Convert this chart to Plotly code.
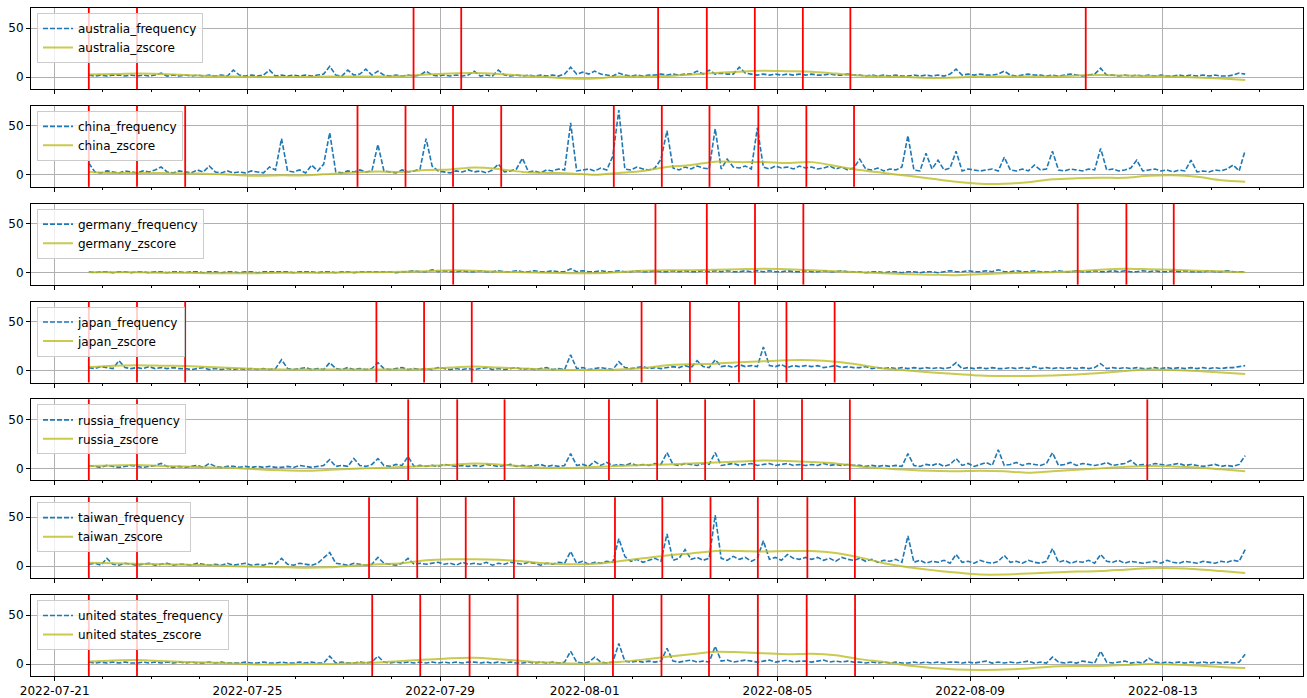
import pandas as pd
import plotly.graph_objects as go
from plotly.subplots import make_subplots

countries = ["australia", "china", "germany", "japan", "russia", "taiwan", "united states"]

tick_labels = ["2022-07-21", "2022-07-25", "2022-07-29", "2022-08-01",
               "2022-08-05", "2022-08-09", "2022-08-13"]

# frequency: one value every 3 hours from 2022-07-21 17:00 (8 values per line = 1 day)
australia_frequency = [
    2, 1, 2, 1, 2, 2, 1, 2,
    1, 2, 1, 2, 4, 1, 2, 1,
    2, 1, 2, 1, 2, 1, 2, 1,
    7, 2, 1, 2, 1, 2, 7, 1,
    2, 1, 2, 1, 2, 1, 2, 3,
    11, 2, 1, 7, 2, 3, 8, 2,
    6, 2, 1, 2, 1, 2, 1, 2,
    6, 2, 1, 2, 1, 2, 1, 2,
    6, 1, 2, 1, 7, 2, 1, 2,
    1, 2, 1, 2, 1, 2, 1, 3,
    10, 3, 5, 3, 6, 3, 2, 1,
    4, 2, 1, 2, 1, 2, 2, 3,
    2, 3, 2, 3, 3, 6, 3, 7,
    3, 4, 3, 3, 10, 4, 3, 2,
    3, 2, 3, 2, 3, 2, 3, 2,
    3, 2, 2, 3, 2, 2, 3, 2,
    2, 1, 2, 1, 2, 1, 2, 1,
    1, 2, 1, 2, 1, 2, 1, 3,
    8, 2, 3, 2, 3, 2, 2, 3,
    6, 2, 1, 2, 3, 2, 2, 1,
    2, 1, 2, 3, 2, 1, 2, 3,
    9, 2, 2, 1, 2, 1, 2, 1,
    2, 1, 2, 1, 1, 2, 1, 2,
    1, 2, 1, 2, 1, 1, 2, 4,
    3]
china_frequency = [
    12, 3, 2, 4, 3, 2, 4, 3,
    2, 4, 3, 5, 8, 3, 2, 4,
    3, 2, 5, 3, 9, 3, 2, 4,
    2, 3, 2, 4, 3, 2, 8, 5,
    37, 4, 3, 5, 2, 10, 4, 11,
    43, 3, 2, 4, 3, 5, 3, 4,
    31, 4, 3, 2, 5, 3, 4, 6,
    37, 9, 4, 3, 2, 4, 3, 5,
    3, 4, 2, 5, 11, 3, 4, 6,
    17, 3, 4, 2, 5, 4, 6, 5,
    53, 4, 5, 6, 4, 7, 5, 19,
    66, 6, 5, 8, 6, 5, 7, 16,
    45, 7, 5, 8, 6, 9, 7, 6,
    47, 6, 16, 8, 7, 9, 6, 48,
    8, 6, 9, 7, 8, 6, 9, 7,
    8, 6, 7, 9, 6, 8, 5, 7,
    16, 6, 5, 7, 4, 6, 5, 8,
    40, 5, 4, 22, 6, 15, 5, 7,
    24, 4, 6, 5, 4, 5, 6, 4,
    18, 5, 4, 6, 4, 10, 5, 6,
    24, 5, 4, 6, 5, 4, 6, 5,
    27, 5, 6, 4, 5, 7, 15, 4,
    5, 6, 4, 5, 3, 5, 4, 15,
    3, 4, 3, 5, 4, 6, 10, 4,
    25]
germany_frequency = [
    1, 0, 1, 1, 0, 1, 1, 0,
    1, 1, 0, 1, 1, 0, 1, 1,
    0, 1, 1, 0, 1, 1, 0, 1,
    1, 0, 1, 1, 0, 1, 1, 1,
    1, 1, 0, 1, 1, 1, 0, 1,
    1, 0, 1, 1, 0, 1, 1, 1,
    1, 1, 1, 0, 1, 1, 2, 1,
    1, 3, 1, 2, 1, 1, 2, 1,
    1, 2, 1, 1, 2, 1, 1, 2,
    1, 1, 2, 1, 1, 2, 1, 1,
    4, 1, 2, 1, 1, 2, 1, 1,
    2, 1, 1, 2, 1, 1, 2, 1,
    1, 2, 1, 2, 1, 1, 2, 1,
    2, 1, 2, 1, 1, 2, 1, 2,
    1, 2, 1, 1, 2, 1, 1, 2,
    1, 1, 2, 1, 1, 2, 1, 1,
    1, 0, 1, 1, 0, 1, 1, 0,
    1, 1, 0, 1, 1, 0, 1, 2,
    1, 1, 2, 1, 1, 2, 1, 3,
    1, 1, 2, 1, 1, 2, 1, 1,
    1, 2, 1, 1, 2, 1, 1, 2,
    1, 1, 2, 1, 2, 1, 1, 2,
    1, 2, 1, 1, 2, 1, 2, 1,
    1, 1, 2, 1, 1, 2, 1, 1,
    1]
japan_frequency = [
    3, 2, 4, 3, 2, 10, 3, 2,
    3, 2, 4, 2, 3, 2, 3, 2,
    2, 1, 2, 3, 1, 2, 1, 2,
    1, 2, 1, 2, 1, 2, 1, 2,
    11, 2, 1, 2, 3, 1, 2, 1,
    8, 2, 1, 3, 1, 2, 1, 2,
    8, 2, 1, 2, 3, 1, 2, 1,
    2, 1, 3, 2, 1, 2, 1, 2,
    1, 2, 3, 1, 2, 1, 2, 3,
    1, 2, 1, 2, 3, 1, 2, 1,
    16, 2, 3, 1, 2, 3, 2, 1,
    9, 3, 2, 3, 4, 2, 3, 2,
    3, 4, 3, 5, 3, 10, 4, 3,
    11, 4, 5, 3, 6, 4, 5, 4,
    24, 5, 4, 6, 3, 5, 4, 5,
    4, 5, 3, 4, 5, 3, 4, 3,
    3, 4, 2, 3, 2, 3, 2, 3,
    2, 3, 2, 3, 2, 3, 2, 3,
    8, 2, 3, 2, 3, 2, 3, 2,
    2, 3, 2, 3, 2, 4, 2, 3,
    2, 3, 2, 3, 2, 3, 2, 3,
    7, 2, 3, 2, 3, 2, 3, 2,
    2, 3, 2, 3, 2, 3, 2, 3,
    2, 3, 2, 3, 2, 3, 3, 4,
    5]
russia_frequency = [
    3, 2, 1, 3, 2, 1, 2, 3,
    2, 1, 2, 3, 5, 2, 1, 2,
    1, 2, 3, 1, 5, 2, 1, 2,
    2, 1, 2, 1, 2, 1, 2, 1,
    1, 2, 1, 3, 2, 1, 2, 3,
    9, 2, 3, 2, 10, 3, 2, 4,
    10, 3, 2, 4, 3, 12, 2, 3,
    2, 3, 2, 4, 3, 2, 3, 2,
    3, 2, 4, 3, 2, 3, 4, 2,
    3, 2, 3, 4, 2, 3, 2, 3,
    15, 3, 4, 2, 7, 3, 6, 3,
    4, 3, 5, 3, 4, 3, 5, 4,
    16, 4, 3, 5, 4, 3, 5, 4,
    16, 3, 4, 5, 3, 4, 5, 3,
    4, 5, 3, 4, 5, 3, 4, 3,
    4, 3, 5, 3, 4, 3, 4, 3,
    3, 2, 3, 2, 3, 2, 3, 2,
    15, 3, 2, 4, 3, 5, 2, 4,
    10, 3, 5, 2, 4, 6, 3, 19,
    3, 4, 6, 3, 5, 4, 3, 5,
    16, 3, 4, 6, 3, 5, 4, 3,
    4, 6, 3, 4, 5, 8, 3, 4,
    3, 5, 4, 3, 4, 5, 3, 4,
    3, 2, 3, 4, 2, 3, 2, 4,
    13]
taiwan_frequency = [
    2, 3, 1, 8, 2, 1, 3, 2,
    1, 2, 3, 1, 2, 3, 1, 2,
    2, 1, 3, 2, 1, 2, 1, 3,
    1, 2, 3, 1, 2, 1, 3, 2,
    8, 2, 1, 3, 2, 1, 3, 9,
    14, 3, 2, 1, 3, 2, 1, 2,
    9, 3, 2, 1, 3, 8, 2, 3,
    2, 3, 4, 2, 3, 1, 4, 2,
    3, 2, 4, 1, 3, 2, 4, 3,
    2, 4, 3, 1, 3, 2, 4, 3,
    15, 3, 5, 2, 4, 3, 5, 4,
    28, 10, 5, 7, 4, 6, 8, 5,
    33, 6, 8, 17, 7, 9, 6, 8,
    52, 8, 6, 10, 7, 9, 5, 8,
    26, 7, 9, 6, 12, 8, 7, 9,
    7, 9, 6, 8, 5, 9, 7, 6,
    8, 5, 7, 4, 6, 5, 7, 4,
    31, 4, 6, 3, 5, 4, 6, 3,
    12, 4, 5, 3, 6, 4, 3, 5,
    11, 4, 5, 3, 6, 4, 3, 5,
    18, 4, 6, 3, 5, 4, 6, 3,
    12, 5, 4, 6, 3, 5, 4, 3,
    4, 5, 3, 6, 4, 3, 5, 4,
    3, 5, 4, 3, 5, 4, 6, 5,
    17]
united_states_frequency = [
    2, 1, 2, 1, 2, 1, 2, 1,
    1, 2, 1, 2, 1, 2, 1, 2,
    1, 2, 1, 1, 2, 1, 2, 1,
    1, 1, 2, 1, 1, 2, 1, 1,
    2, 1, 1, 2, 1, 2, 1, 1,
    8, 1, 2, 1, 1, 2, 1, 2,
    8, 2, 1, 2, 1, 2, 1, 2,
    1, 2, 1, 2, 1, 2, 1, 2,
    2, 1, 2, 1, 2, 1, 2, 1,
    1, 2, 1, 2, 1, 2, 1, 2,
    13, 2, 1, 2, 7, 2, 1, 2,
    21, 3, 2, 3, 2, 3, 2, 3,
    16, 3, 2, 3, 4, 2, 3, 2,
    18, 3, 4, 2, 3, 4, 3, 2,
    3, 4, 2, 3, 4, 2, 3, 3,
    2, 3, 4, 2, 3, 2, 3, 2,
    2, 1, 2, 1, 2, 1, 2, 1,
    1, 2, 1, 2, 1, 2, 1, 2,
    2, 1, 2, 1, 2, 3, 1, 2,
    1, 2, 1, 2, 3, 1, 2, 1,
    7, 2, 1, 2, 1, 3, 2, 1,
    13, 2, 1, 2, 3, 1, 2, 1,
    6, 2, 1, 2, 1, 2, 1, 2,
    1, 2, 1, 2, 1, 2, 1, 2,
    10]

# zscore: one value every 12 hours from 2022-07-21 17:00
australia_zscore = [2.5, 3, 3.5, 3, 2, 1, 0.5, 0, 0, 0, 0.5, 0.5, 0.5, 1, 2.5, 3.5, 4, 3, 1.5, 0,
                    -1.5, -1.5, 0.5, 0.5, 1, 2.5, 4, 5.5, 6.5, 6, 5.5, 3.5, 1.5, 0.5, 0, -1, -0.5,
                    0.5, 0.5, 0.5, 0.5, 1.5, 2, 1.5, 1, 0.5, -0.5, -1.5, -3]
china_zscore = [3, 2, 2, 2, 1.5, 1, 0, -1, -0.5, -0.5, 1, 2.5, 3.5, 3, 5, 5.5, 7.5, 6, 3, 2,
                1.5, 0, 2, 4, 8, 10, 13.5, 13, 13, 12, 13, 9, 5, 2, -1, -4, -7, -9, -9, -7.5,
                -4.5, -3.5, -3, -3, -1, -0.5, -2, -5.5, -7]
germany_zscore = [0.5, 0.5, 0.5, 0, 0, -0.5, -0.5, -0.5, 0, 0, 0, 0.5, 0.5, 1, 1.5, 2.5, 2, 1,
                  0.5, 0, -0.5, -0.5, 0.5, 2, 2.5, 2.5, 3, 3.5, 4, 3.5, 2.5, 1.5, 0.5, -0.5, -1.5,
                  -2, -2.5, -1.5, -0.5, 0, 0.5, 1.5, 3, 4, 3.5, 3, 2, 1.5, 0.5]
japan_zscore = [3.5, 5, 5.5, 5, 4.5, 3.5, 2.5, 1.5, 1, 1, 1, 1, 1, 1, 1.5, 3, 4, 3, 2, 1, 0.5,
                0.5, 1, 2.5, 5.5, 6.5, 7, 8.5, 9.5, 10.5, 10.5, 9, 6, 2, 0, -2, -3.5, -5, -5.5,
                -5.5, -5, -4, -2.5, -0.5, 1, 0.5, -0.5, -2, -3.5]
russia_zscore = [2.5, 3, 3.5, 2.5, 2, 1, 0.5, -1, -2, -2.5, -1.5, -0.5, 0.5, 1.5, 2.5, 3.5, 5, 4,
                 2, 0.5, 0.5, 1.5, 2.5, 3.5, 4, 5, 6, 7, 8, 7.5, 6.5, 5, 2, 0, -1.5, -2.5, -3,
                 -2.5, -3, -4.5, -3, -1.5, 0, 1.5, 2.5, 2, 1, -1, -3]
taiwan_zscore = [3.5, 3, 2.5, 2, 1.5, 1, 0, -0.5, -1, -1.5, -1, 0.5, 2, 3, 6, 7, 7, 6.5, 5, 3,
                 2, 2.5, 5, 8, 11, 13, 15.5, 15.5, 15, 15.5, 15.5, 13.5, 9, 3, -1, -4, -6.5,
                 -8.5, -8.5, -7.5, -6.5, -5.5, -5, -3.5, -2, -2, -3, -5, -7]
united_states_zscore = [2.5, 3.5, 4, 3, 2, 1.5, 0.5, -0.5, -0.5, 0, 0, 1, 1.5, 3, 4.5, 6, 6.5, 5,
                        3, 1.5, 0.5, 0.5, 2, 4.5, 7.5, 10, 12.5, 12, 11, 10, 10.5, 9, 5, 2, -1.5,
                        -4, -5.5, -6, -5.5, -4.5, -2.5, -2, -2, -1, 0, -0.5, -1.5, -3, -4]

# detected event times (red vertical lines)
australia_events = ["2022-07-21 17:00", "2022-07-22 17:00", "2022-07-28 10:45", "2022-07-29 10:30",
                    "2022-08-02 12:35", "2022-08-03 12:50", "2022-08-04 12:45", "2022-08-05 12:40",
                    "2022-08-06 12:20", "2022-08-11 09:35"]
china_events = ["2022-07-21 17:00", "2022-07-22 17:00", "2022-07-23 17:00", "2022-07-27 06:50",
                "2022-07-28 06:45", "2022-07-29 06:25", "2022-07-30 06:25", "2022-08-01 14:30",
                "2022-08-02 14:25", "2022-08-03 14:10", "2022-08-04 14:30", "2022-08-05 14:25",
                "2022-08-06 14:10"]
germany_events = ["2022-07-29 06:30", "2022-08-02 11:15", "2022-08-03 12:50", "2022-08-04 12:50",
                  "2022-08-05 12:55", "2022-08-11 05:35", "2022-08-12 05:50", "2022-08-13 05:25"]
japan_events = ["2022-07-21 17:00", "2022-07-22 17:00", "2022-07-23 17:00", "2022-07-27 16:15",
                "2022-07-28 16:00", "2022-07-29 15:45", "2022-08-02 04:20", "2022-08-03 04:25",
                "2022-08-04 04:50", "2022-08-05 04:30", "2022-08-06 04:30"]
russia_events = ["2022-07-21 17:00", "2022-07-22 17:00", "2022-07-28 08:05", "2022-07-29 08:30",
                 "2022-07-30 08:05", "2022-08-01 12:05", "2022-08-02 12:05", "2022-08-03 12:00",
                 "2022-08-04 12:25", "2022-08-05 12:15", "2022-08-06 12:05", "2022-08-12 16:15"]
taiwan_events = ["2022-07-21 17:00", "2022-07-22 17:00", "2022-07-27 12:35", "2022-07-28 12:35",
                 "2022-07-29 12:45", "2022-07-30 12:45", "2022-08-01 15:05", "2022-08-02 14:40",
                 "2022-08-03 14:40", "2022-08-04 14:15", "2022-08-05 14:55", "2022-08-06 14:35"]
united_states_events = ["2022-07-21 17:00", "2022-07-22 17:00", "2022-07-27 14:10", "2022-07-28 14:05",
                        "2022-07-29 14:40", "2022-07-30 14:35", "2022-08-01 14:05", "2022-08-02 14:15",
                        "2022-08-03 13:55", "2022-08-04 14:15", "2022-08-05 14:35", "2022-08-06 14:40"]

frequencies = [australia_frequency, china_frequency, germany_frequency, japan_frequency,
               russia_frequency, taiwan_frequency, united_states_frequency]
zscores = [australia_zscore, china_zscore, germany_zscore, japan_zscore,
           russia_zscore, taiwan_zscore, united_states_zscore]
events = [australia_events, china_events, germany_events, japan_events,
          russia_events, taiwan_events, united_states_events]

freq_times = pd.date_range("2022-07-21 17:00", periods=193, freq="3h")
z_times = pd.date_range("2022-07-21 17:00", periods=49, freq="12h")

W, H = 1307, 698
ML, MR, MT, MB = 31, 4, 8, 22
plot_h = H - MT - MB
sub_h = 81
gap_px = (plot_h - 7 * sub_h) / 6.0

fig = make_subplots(rows=7, cols=1, shared_xaxes=True, vertical_spacing=gap_px / plot_h)

FONT = "DejaVu Sans"
BLUE = "#1f77b4"
OLIVE = "rgba(188,189,34,0.8)"

for i, c in enumerate(countries):
    row = i + 1
    leg = "legend" if i == 0 else f"legend{row}"
    fv = frequencies[i]
    zv = zscores[i]
    fig.add_trace(go.Scatter(x=freq_times[:len(fv)], y=fv, mode="lines", name=f"{c}_frequency",
                             line=dict(color=BLUE, width=1.6, dash="5px,2px"), legend=leg),
                  row=row, col=1)
    fig.add_trace(go.Scatter(x=z_times[:len(zv)], y=zv, mode="lines", name=f"{c}_zscore",
                             line=dict(color=OLIVE, width=2, shape="spline", smoothing=0.8),
                             legend=leg),
                  row=row, col=1)
    xref = "x" if row == 1 else f"x{row}"
    yref = ("y" if row == 1 else f"y{row}") + " domain"
    for t in events[i]:
        fig.add_shape(type="line", x0=t, x1=t, y0=0, y1=1, xref=xref, yref=yref,
                      line=dict(color="red", width=1.8), layer="above")

axis_common = dict(showline=True, linecolor="black", linewidth=1, mirror=True,
                   ticks="outside", ticklen=4, tickcolor="black", gridcolor="#b0b0b0",
                   gridwidth=0.8, showgrid=True, zeroline=False, automargin=False,
                   tickfont=dict(family=FONT, size=12, color="black"))

fig.update_xaxes(**axis_common,
                 range=["2022-07-20 12:12", "2022-08-15 21:48"],
                 tickmode="array", tickvals=tick_labels, ticktext=tick_labels,
                 minor=dict(ticks="outside", ticklen=2, tickcolor="black", showgrid=False,
                            tickmode="linear", tick0="2022-07-21", dtick=86400000))
for r in range(1, 8):
    fig.update_xaxes(showticklabels=(r == 7), row=r, col=1)

fig.update_yaxes(**axis_common, range=[-12.2, 70.4], tickmode="array", tickvals=[0, 50])

legends = {}
for i in range(7):
    row = i + 1
    yname = "yaxis" if row == 1 else f"yaxis{row}"
    top = fig.layout[yname].domain[1]
    key = "legend" if i == 0 else f"legend{row}"
    legends[key] = dict(x=6 / (W - ML - MR), y=top - 5 / plot_h, xanchor="left", yanchor="top",
                        bgcolor="rgba(255,255,255,0.8)", bordercolor="#cccccc", borderwidth=1,
                        font=dict(family=FONT, size=12, color="black"), itemwidth=30,
                        tracegroupgap=0)

fig.update_layout(width=W, height=H, margin=dict(l=ML, r=MR, t=MT, b=MB, autoexpand=False),
                  paper_bgcolor="white", plot_bgcolor="white",
                  font=dict(family=FONT, size=12, color="black"),
                  showlegend=True, **legends)

# remove the browser's default 8px page margin so the figure sits at the window origin
fig.write_html("out.html", config={"displayModeBar": False},
               post_script="document.body.style.margin='0px';")
